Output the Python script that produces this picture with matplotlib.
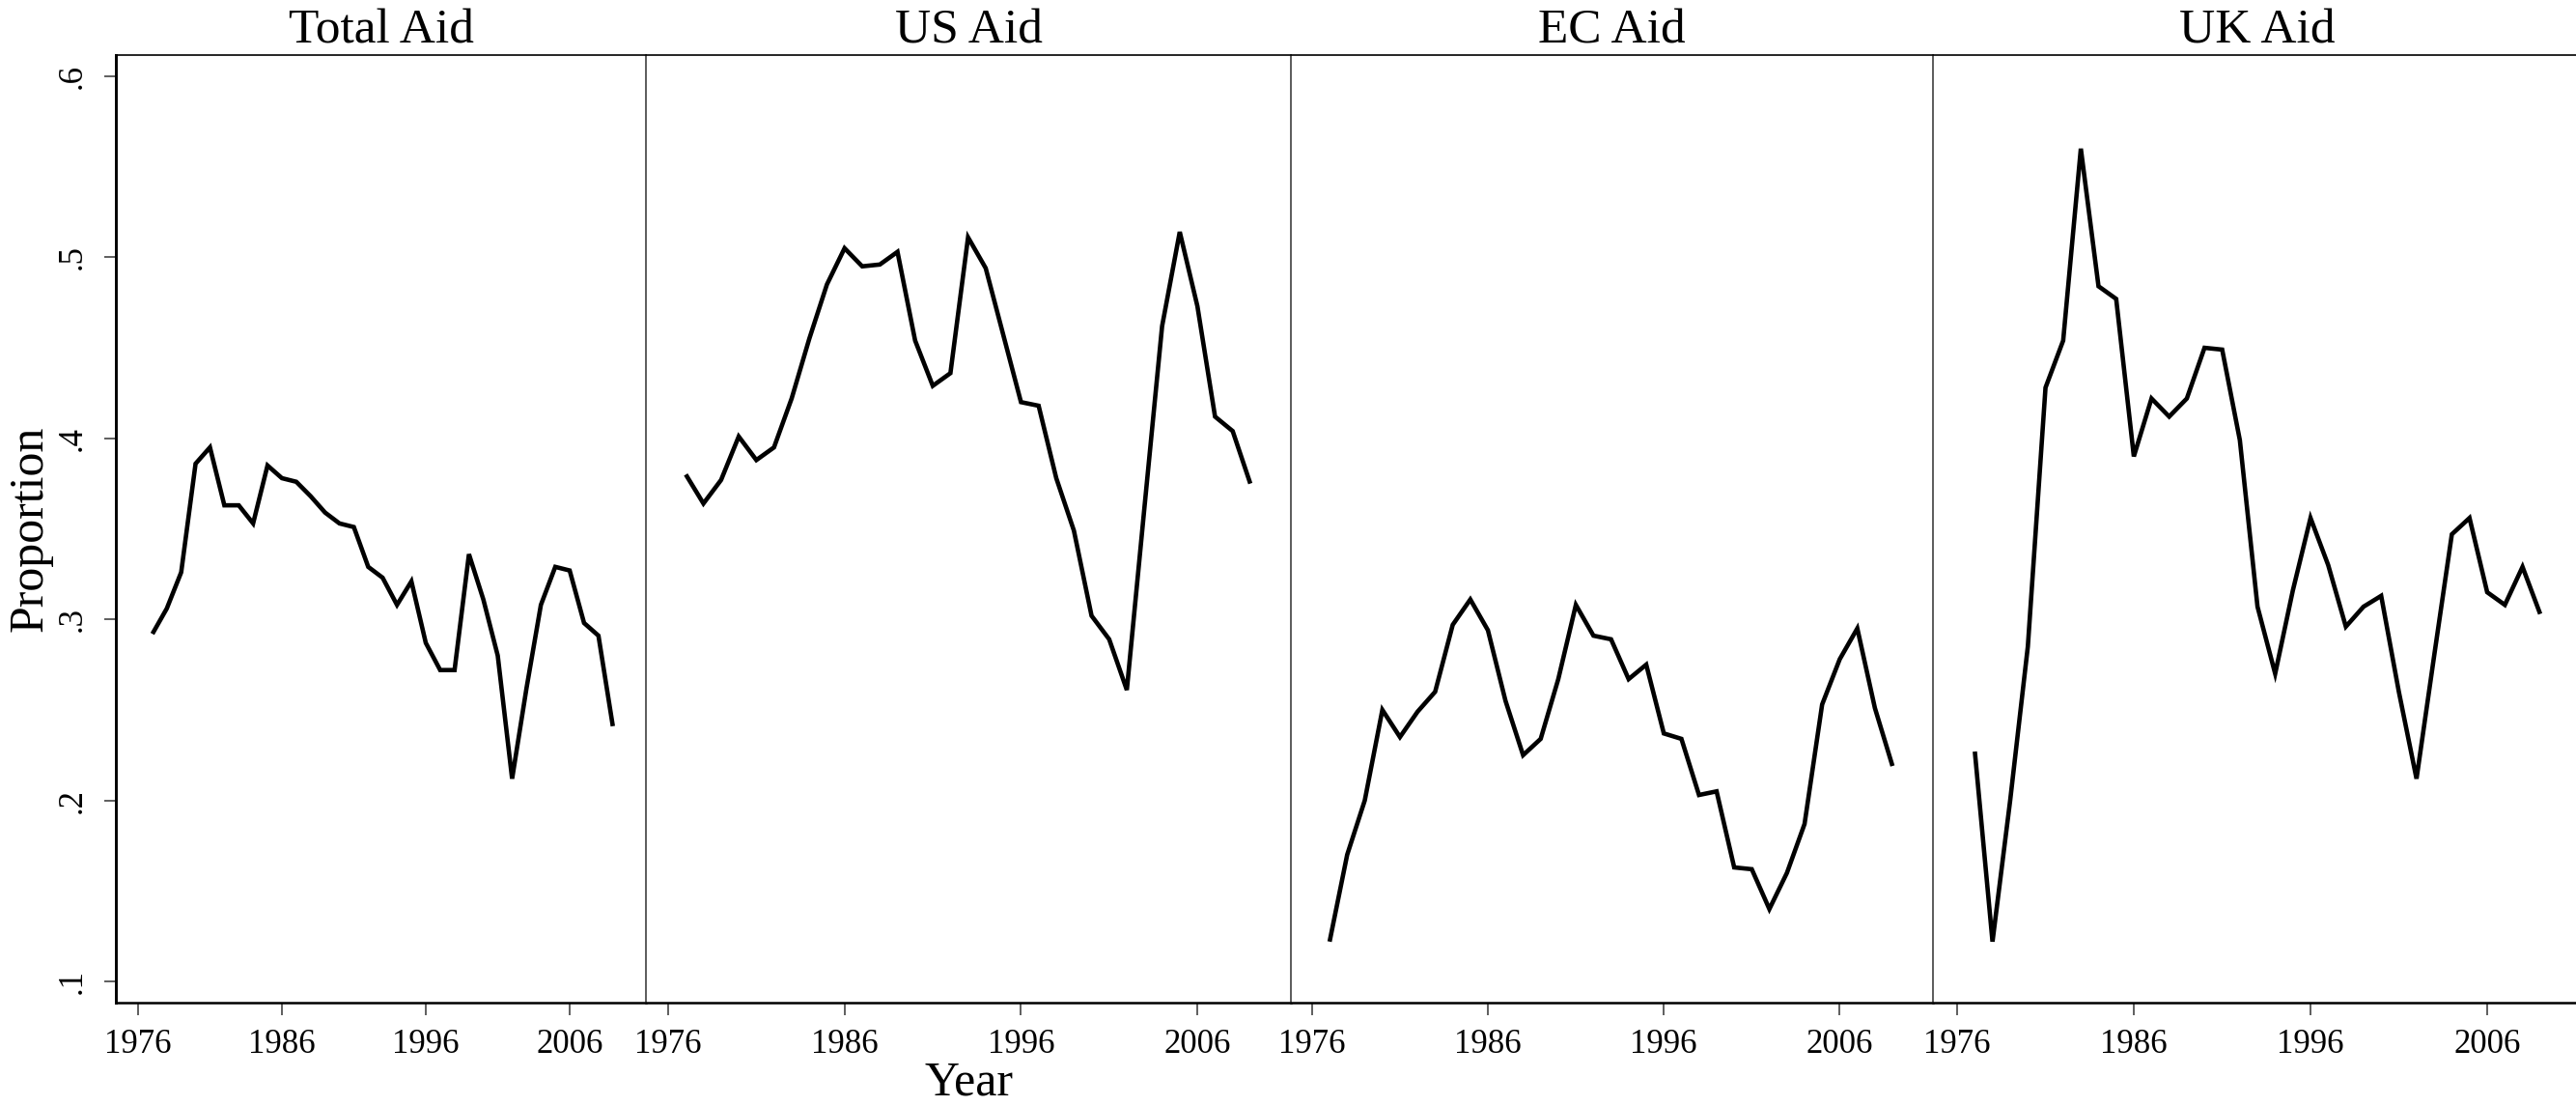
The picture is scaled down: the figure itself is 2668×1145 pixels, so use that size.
"""
Share of aid by donor, 1977-2009: four side-by-side panels (Stata-like look).
"""

import matplotlib
matplotlib.use("Agg")
import matplotlib.pyplot as plt

# ---------------------------------------------------------------------------
# Data
# ---------------------------------------------------------------------------
YEARS = [1977, 1978, 1979, 1980, 1981, 1982, 1983, 1984, 1985, 1986, 1987,
         1988, 1989, 1990, 1991, 1992, 1993, 1994, 1995, 1996, 1997, 1998,
         1999, 2000, 2001, 2002, 2003, 2004, 2005, 2006, 2007, 2008, 2009]

TOTAL_AID = [0.292, 0.306, 0.326, 0.386, 0.395, 0.363, 0.363, 0.353, 0.385,
             0.378, 0.376, 0.368, 0.359, 0.353, 0.351, 0.329, 0.323, 0.308,
             0.321, 0.287, 0.272, 0.272, 0.336, 0.311, 0.280, 0.212, 0.262,
             0.308, 0.329, 0.327, 0.298, 0.291, 0.241]

US_AID = [0.380, 0.364, 0.377, 0.401, 0.388, 0.395, 0.422, 0.455, 0.485,
          0.505, 0.495, 0.496, 0.503, 0.454, 0.429, 0.436, 0.511, 0.494,
          0.457, 0.420, 0.418, 0.378, 0.349, 0.302, 0.289, 0.261, 0.362,
          0.462, 0.514, 0.473, 0.412, 0.404, 0.375]

EC_AID = [0.122, 0.170, 0.200, 0.250, 0.235, 0.249, 0.260, 0.297, 0.311,
          0.294, 0.255, 0.225, 0.234, 0.267, 0.308, 0.291, 0.289, 0.267,
          0.275, 0.237, 0.234, 0.203, 0.205, 0.163, 0.162, 0.140, 0.160,
          0.187, 0.253, 0.278, 0.295, 0.251, 0.219]

UK_AID = [0.227, 0.122, 0.200, 0.285, 0.428, 0.454, 0.560, 0.484, 0.477,
          0.390, 0.422, 0.412, 0.422, 0.450, 0.449, 0.399, 0.307, 0.270,
          0.316, 0.356, 0.330, 0.296, 0.307, 0.313, 0.260, 0.212, 0.280,
          0.347, 0.356, 0.315, 0.308, 0.329, 0.303]

TITLES = ["Total Aid", "US Aid", "EC Aid", "UK Aid"]
SERIES = [TOTAL_AID, US_AID, EC_AID, UK_AID]
X_TICKS = [1976, 1986, 1996, 2006]
Y_TICKS = [0.1, 0.2, 0.3, 0.4, 0.5, 0.6]
Y_LABELS = [".1", ".2", ".3", ".4", ".5", ".6"]

# ---------------------------------------------------------------------------
# Layout (pixels of the 2668x1145 canvas)
# ---------------------------------------------------------------------------
W, H = 2668, 1145
DPI = 100
FONT = "Liberation Serif"

PANEL_PX = [(120, 669), (669, 1337), (1337, 2002), (2002, 2673)]
X_LEFT = [1974.46, 1974.74, 1974.80, 1974.63]
X_RIGHT = 2011.3
TOP_PX, BOTTOM_PX = 57, 1038
Y_LIM = (0.0883, 0.6117)

plt.rcParams["font.family"] = [FONT, "DejaVu Serif"]

fig = plt.figure(figsize=(W / DPI, H / DPI), dpi=DPI)
fig.patch.set_facecolor("white")

for i, (title, values) in enumerate(zip(TITLES, SERIES)):
    x0, x1 = PANEL_PX[i]
    ax = fig.add_axes([x0 / W, (H - BOTTOM_PX) / H,
                       (x1 - x0) / W, (BOTTOM_PX - TOP_PX) / H])
    ax.plot(YEARS, values, color="black", linewidth=3.3,
            solid_joinstyle="miter", solid_capstyle="butt")

    ax.set_xlim(X_LEFT[i], X_RIGHT)
    ax.set_ylim(*Y_LIM)
    ax.set_title(title, fontsize=37, pad=9)

    ax.spines["right"].set_visible(False)
    ax.spines["top"].set_linewidth(1.2)
    ax.spines["bottom"].set_linewidth(1.8)

    ax.set_xticks(X_TICKS)
    ax.set_xticklabels([str(t) for t in X_TICKS])
    ax.tick_params(axis="x", length=9.5, width=1.1, color="#333333",
                   pad=10, labelsize=25)

    if i == 0:
        ax.spines["left"].set_linewidth(2.1)
        ax.set_yticks(Y_TICKS)
        ax.set_yticklabels(Y_LABELS, rotation=90, va="center")
        ax.tick_params(axis="y", length=9, width=1.1, color="#333333",
                       pad=11, labelsize=25)
        ax.set_ylabel("Proportion", fontsize=36, labelpad=3)
    else:
        ax.spines["left"].set_linewidth(1.2)
        ax.spines["left"].set_color("#404040")
        ax.set_yticks([])

fig.text(1004 / W, 1 - 1121 / H, "Year", fontsize=36,
         ha="center", va="center")

fig.savefig("out.png", dpi=DPI, facecolor="white")
plt.close(fig)
